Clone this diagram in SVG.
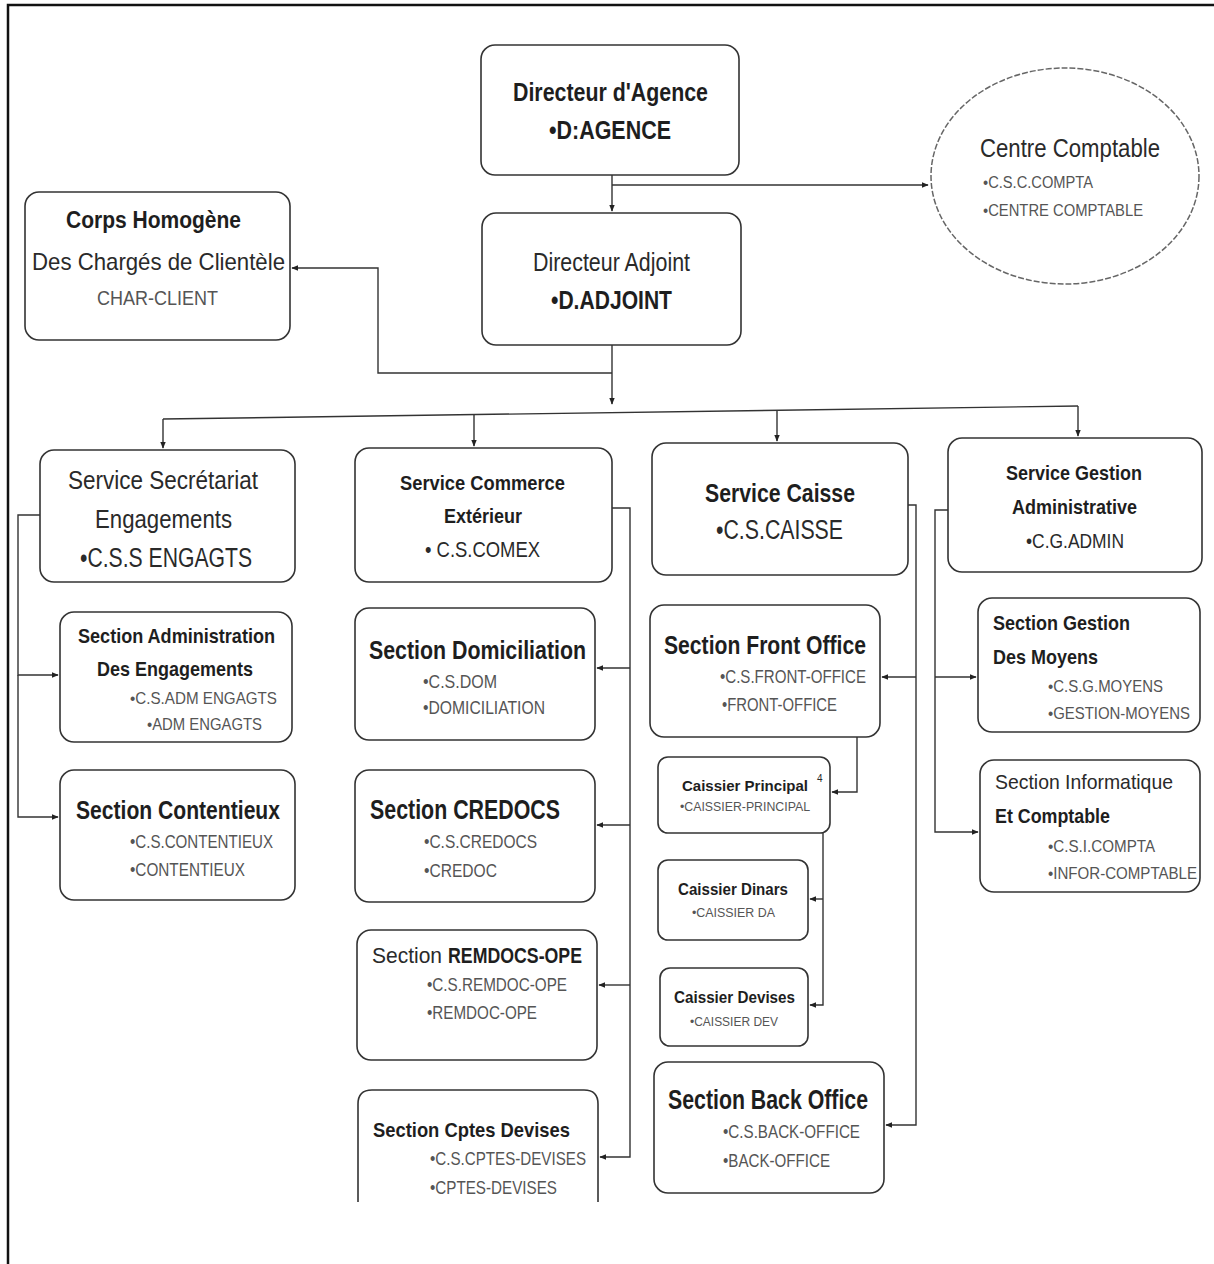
<svg xmlns="http://www.w3.org/2000/svg" width="1214" height="1264" viewBox="0 0 1214 1264">
<defs>
<marker id="ah" viewBox="0 0 10 10" refX="9" refY="5" markerWidth="7" markerHeight="7" orient="auto-start-reverse" markerUnits="userSpaceOnUse">
<path d="M0,1 L10,5 L0,9 z" fill="#222"/>
</marker>
<style>
.box{fill:#fff;stroke:#333;stroke-width:1.6}
.c{fill:none;stroke:#333;stroke-width:1.4}
.ca{fill:none;stroke:#333;stroke-width:1.4;marker-end:url(#ah)}
text{font-family:"Liberation Sans",Arial,sans-serif;fill:#2a2a2a}
.b{font-weight:bold;fill:#1e1e1e}
.l{fill:#555}
</style>
</defs>
<rect width="1214" height="1264" fill="#fff"/>
<path d="M8,1264 V5 H1214" fill="none" stroke="#111" stroke-width="2.5"/>

<g id="connectors">
<path class="ca" d="M612,175 V211"/>
<path class="ca" d="M612,185 H928"/>
<path class="ca" d="M612,345 V404"/>
<path class="ca" d="M612,373 H378 V268 H292"/>
<path class="c" d="M163,419 L1078,406"/>
<path class="ca" d="M163,419 V448"/>
<path class="ca" d="M474,415 V446"/>
<path class="ca" d="M777,411 V441"/>
<path class="ca" d="M1078,406 V436"/>
<path class="ca" d="M40,515 H18 V675 H58"/>
<path class="ca" d="M18,675 V817 H58"/>
<path class="ca" d="M612,508 H630 V1157 H600"/>
<path class="ca" d="M630,668 H597"/>
<path class="ca" d="M630,825 H597"/>
<path class="ca" d="M630,985 H599"/>
<path class="ca" d="M908,505 H916 V1125 H886"/>
<path class="ca" d="M916,677 H882"/>
<path class="ca" d="M857,737 V792 H832"/>
<path class="ca" d="M823,833 V1005 H810"/>
<path class="ca" d="M823,899 H810"/>
<path class="ca" d="M948,510 H935 V832 H978"/>
<path class="ca" d="M935,677 H976"/>
</g>

<g id="directeur-agence">
<rect class="box" x="481" y="45" width="258" height="130" rx="14"/>
<text class="b" x="513" y="101" font-size="26" textLength="195" lengthAdjust="spacingAndGlyphs">Directeur d'Agence</text>
<text class="b" x="549" y="139" font-size="26" textLength="122" lengthAdjust="spacingAndGlyphs">•D:AGENCE</text>
</g>

<g id="directeur-adjoint">
<rect class="box" x="482" y="213" width="259" height="132" rx="14"/>
<text x="533" y="271" font-size="25" textLength="157" lengthAdjust="spacingAndGlyphs">Directeur Adjoint</text>
<text class="b" x="551" y="309" font-size="26" textLength="121" lengthAdjust="spacingAndGlyphs">•D.ADJOINT</text>
</g>

<g id="centre-comptable">
<ellipse cx="1065" cy="176" rx="134" ry="108" fill="#fff" stroke="#666" stroke-width="1.5" stroke-dasharray="6 2"/>
<text x="980" y="157" font-size="25" textLength="180" lengthAdjust="spacingAndGlyphs">Centre Comptable</text>
<text class="l" x="983" y="188" font-size="16" textLength="110" lengthAdjust="spacingAndGlyphs">•C.S.C.COMPTA</text>
<text class="l" x="983" y="216" font-size="16" textLength="160" lengthAdjust="spacingAndGlyphs">•CENTRE COMPTABLE</text>
</g>

<g id="corps-homogene">
<rect class="box" x="25" y="192" width="265" height="148" rx="14"/>
<text class="b" x="66" y="228" font-size="23" textLength="175" lengthAdjust="spacingAndGlyphs">Corps Homogène</text>
<text x="32" y="270" font-size="24" textLength="253" lengthAdjust="spacingAndGlyphs">Des Chargés de Clientèle</text>
<text class="l" x="97" y="305" font-size="21" textLength="121" lengthAdjust="spacingAndGlyphs">CHAR-CLIENT</text>
</g>

<g id="service-secretariat">
<rect class="box" x="40" y="450" width="255" height="132" rx="14"/>
<text x="68" y="489" font-size="25" textLength="190" lengthAdjust="spacingAndGlyphs">Service Secrétariat</text>
<text x="95" y="528" font-size="25" textLength="137" lengthAdjust="spacingAndGlyphs">Engagements</text>
<text x="80" y="567" font-size="27" textLength="172" lengthAdjust="spacingAndGlyphs">•C.S.S ENGAGTS</text>
</g>

<g id="service-commerce">
<rect class="box" x="355" y="448" width="257" height="134" rx="14"/>
<text class="b" x="400" y="490" font-size="21" textLength="165" lengthAdjust="spacingAndGlyphs">Service Commerce</text>
<text class="b" x="444" y="523" font-size="21" textLength="78" lengthAdjust="spacingAndGlyphs">Extérieur</text>
<text x="425" y="557" font-size="22" textLength="115" lengthAdjust="spacingAndGlyphs">• C.S.COMEX</text>
</g>

<g id="service-caisse">
<rect class="box" x="652" y="443" width="256" height="132" rx="14"/>
<text class="b" x="705" y="502" font-size="25" textLength="150" lengthAdjust="spacingAndGlyphs">Service Caisse</text>
<text x="716" y="539" font-size="27" textLength="127" lengthAdjust="spacingAndGlyphs">•C.S.CAISSE</text>
</g>

<g id="service-gestion">
<rect class="box" x="948" y="438" width="254" height="134" rx="14"/>
<text class="b" x="1006" y="480" font-size="21" textLength="136" lengthAdjust="spacingAndGlyphs">Service Gestion</text>
<text class="b" x="1012" y="514" font-size="21" textLength="125" lengthAdjust="spacingAndGlyphs">Administrative</text>
<text x="1026" y="548" font-size="21" textLength="98" lengthAdjust="spacingAndGlyphs">•C.G.ADMIN</text>
</g>

<g id="section-administration">
<rect class="box" x="60" y="612" width="232" height="130" rx="14"/>
<text class="b" x="78" y="643" font-size="21" textLength="197" lengthAdjust="spacingAndGlyphs">Section Administration</text>
<text class="b" x="97" y="676" font-size="21" textLength="156" lengthAdjust="spacingAndGlyphs">Des Engagements</text>
<text class="l" x="130" y="704" font-size="17" textLength="147" lengthAdjust="spacingAndGlyphs">•C.S.ADM ENGAGTS</text>
<text class="l" x="147" y="730" font-size="17" textLength="115" lengthAdjust="spacingAndGlyphs">•ADM ENGAGTS</text>
</g>

<g id="section-contentieux">
<rect class="box" x="60" y="770" width="235" height="130" rx="14"/>
<text class="b" x="76" y="819" font-size="26" textLength="204" lengthAdjust="spacingAndGlyphs">Section Contentieux</text>
<text class="l" x="130" y="848" font-size="18" textLength="143" lengthAdjust="spacingAndGlyphs">•C.S.CONTENTIEUX</text>
<text class="l" x="130" y="876" font-size="18" textLength="115" lengthAdjust="spacingAndGlyphs">•CONTENTIEUX</text>
</g>

<g id="section-domiciliation">
<rect class="box" x="355" y="608" width="240" height="132" rx="14"/>
<text class="b" x="369" y="659" font-size="26" textLength="217" lengthAdjust="spacingAndGlyphs">Section Domiciliation</text>
<text class="l" x="423" y="688" font-size="18" textLength="74" lengthAdjust="spacingAndGlyphs">•C.S.DOM</text>
<text class="l" x="423" y="714" font-size="18" textLength="122" lengthAdjust="spacingAndGlyphs">•DOMICILIATION</text>
</g>

<g id="section-credocs">
<rect class="box" x="355" y="770" width="240" height="132" rx="14"/>
<text class="b" x="370" y="819" font-size="27" textLength="190" lengthAdjust="spacingAndGlyphs">Section CREDOCS</text>
<text class="l" x="424" y="848" font-size="19" textLength="113" lengthAdjust="spacingAndGlyphs">•C.S.CREDOCS</text>
<text class="l" x="424" y="877" font-size="19" textLength="73" lengthAdjust="spacingAndGlyphs">•CREDOC</text>
</g>

<g id="section-remdocs">
<rect class="box" x="357" y="930" width="240" height="130" rx="14"/>
<text x="372" y="963" font-size="22" textLength="70" lengthAdjust="spacingAndGlyphs">Section</text>
<text class="b" x="448" y="963" font-size="22" textLength="134" lengthAdjust="spacingAndGlyphs">REMDOCS-OPE</text>
<text class="l" x="427" y="991" font-size="19" textLength="140" lengthAdjust="spacingAndGlyphs">•C.S.REMDOC-OPE</text>
<text class="l" x="427" y="1019" font-size="19" textLength="110" lengthAdjust="spacingAndGlyphs">•REMDOC-OPE</text>
</g>

<g id="section-cptes-devises">
<path class="box" d="M358,1202 V1104 Q358,1090 372,1090 H584 Q598,1090 598,1104 V1202"/>
<text class="b" x="373" y="1137" font-size="21" textLength="197" lengthAdjust="spacingAndGlyphs">Section Cptes Devises</text>
<text class="l" x="430" y="1165" font-size="19" textLength="156" lengthAdjust="spacingAndGlyphs">•C.S.CPTES-DEVISES</text>
<text class="l" x="430" y="1194" font-size="19" textLength="127" lengthAdjust="spacingAndGlyphs">•CPTES-DEVISES</text>
</g>

<g id="section-front-office">
<rect class="box" x="650" y="605" width="230" height="132" rx="14"/>
<text class="b" x="664" y="654" font-size="26" textLength="202" lengthAdjust="spacingAndGlyphs">Section Front Office</text>
<text class="l" x="720" y="683" font-size="19" textLength="146" lengthAdjust="spacingAndGlyphs">•C.S.FRONT-OFFICE</text>
<text class="l" x="722" y="711" font-size="19" textLength="115" lengthAdjust="spacingAndGlyphs">•FRONT-OFFICE</text>
</g>

<g id="caissier-principal">
<rect class="box" x="658" y="757" width="172" height="76" rx="10"/>
<text class="b" x="682" y="791" font-size="15" textLength="126" lengthAdjust="spacingAndGlyphs">Caissier Principal</text>
<text x="817" y="782" font-size="10">4</text>
<text class="l" x="680" y="811" font-size="12" textLength="130" lengthAdjust="spacingAndGlyphs">•CAISSIER-PRINCIPAL</text>
</g>

<g id="caissier-dinars">
<rect class="box" x="658" y="860" width="150" height="80" rx="10"/>
<text class="b" x="678" y="895" font-size="17" textLength="110" lengthAdjust="spacingAndGlyphs">Caissier Dinars</text>
<text class="l" x="692" y="917" font-size="12" textLength="83" lengthAdjust="spacingAndGlyphs">•CAISSIER DA</text>
</g>

<g id="caissier-devises">
<rect class="box" x="660" y="968" width="148" height="78" rx="10"/>
<text class="b" x="674" y="1003" font-size="17" textLength="121" lengthAdjust="spacingAndGlyphs">Caissier Devises</text>
<text class="l" x="690" y="1026" font-size="12" textLength="88" lengthAdjust="spacingAndGlyphs">•CAISSIER DEV</text>
</g>

<g id="section-back-office">
<rect class="box" x="654" y="1062" width="230" height="131" rx="14"/>
<text class="b" x="668" y="1109" font-size="27" textLength="200" lengthAdjust="spacingAndGlyphs">Section Back Office</text>
<text class="l" x="723" y="1138" font-size="19" textLength="137" lengthAdjust="spacingAndGlyphs">•C.S.BACK-OFFICE</text>
<text class="l" x="723" y="1167" font-size="19" textLength="107" lengthAdjust="spacingAndGlyphs">•BACK-OFFICE</text>
</g>

<g id="section-gestion-moyens">
<rect class="box" x="978" y="598" width="222" height="134" rx="14"/>
<text class="b" x="993" y="630" font-size="21" textLength="137" lengthAdjust="spacingAndGlyphs">Section Gestion</text>
<text class="b" x="993" y="664" font-size="21" textLength="105" lengthAdjust="spacingAndGlyphs">Des Moyens</text>
<text class="l" x="1048" y="692" font-size="17" textLength="115" lengthAdjust="spacingAndGlyphs">•C.S.G.MOYENS</text>
<text class="l" x="1048" y="719" font-size="17" textLength="142" lengthAdjust="spacingAndGlyphs">•GESTION-MOYENS</text>
</g>

<g id="section-informatique">
<rect class="box" x="980" y="760" width="220" height="132" rx="14"/>
<text x="995" y="789" font-size="21" textLength="178" lengthAdjust="spacingAndGlyphs">Section Informatique</text>
<text class="b" x="995" y="823" font-size="21" textLength="115" lengthAdjust="spacingAndGlyphs">Et Comptable</text>
<text class="l" x="1048" y="852" font-size="17" textLength="107" lengthAdjust="spacingAndGlyphs">•C.S.I.COMPTA</text>
<text class="l" x="1048" y="879" font-size="17" textLength="149" lengthAdjust="spacingAndGlyphs">•INFOR-COMPTABLE</text>
</g>
</svg>
